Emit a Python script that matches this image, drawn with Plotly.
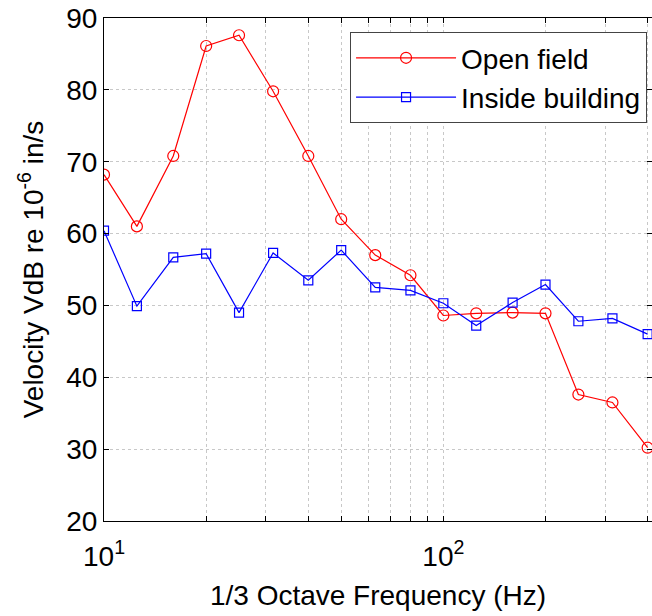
import plotly.graph_objects as go
import math

freq = [10, 12.5, 16, 20, 25, 31.5, 40, 50, 63, 80, 100, 125, 160, 200, 250, 315, 400]
open_field = [68.2, 61.0, 70.8, 86.1, 87.6, 79.8, 70.8, 62.0, 57.0, 54.2, 48.6, 48.9, 49.0, 48.9, 37.6, 36.5, 30.2]
inside_building = [60.4, 49.9, 56.7, 57.2, 49.0, 57.3, 53.5, 57.7, 52.5, 52.1, 50.3, 47.2, 50.4, 52.9, 47.8, 48.2, 46.0]

x_tickvals = [10, 20, 30, 40, 50, 60, 70, 80, 90, 100, 200, 300, 400]
x_ticktext = ["10<sup>1</sup>"] + [""] * 8 + ["10<sup>2</sup>"] + [""] * 3
y_tickvals = [20, 30, 40, 50, 60, 70, 80, 90]

FONT = "Liberation Sans, Arial, sans-serif"
FS = 28

fig = go.Figure()
fig.add_trace(go.Scatter(
    x=freq, y=open_field, name="Open field", mode="lines+markers",
    line=dict(color="#ff0000", width=1.2),
    marker=dict(symbol="circle-open", size=11, color="#ff0000", line=dict(width=1.2)),
))
fig.add_trace(go.Scatter(
    x=freq, y=inside_building, name="Inside building", mode="lines+markers",
    line=dict(color="#0000ff", width=1.2),
    marker=dict(symbol="square-open", size=9, color="#0000ff", line=dict(width=1.2)),
))

fig.update_layout(
    width=652, height=616,
    margin=dict(l=104, r=0, t=18, b=95, autoexpand=False),
    paper_bgcolor="white", plot_bgcolor="white",
    font=dict(family=FONT, size=FS, color="black"),
    showlegend=True,
    legend=dict(
        x=0.449, y=0.972, xanchor="left", yanchor="top",
        bgcolor="white", bordercolor="#444444", borderwidth=1,
        font=dict(size=FS, family=FONT), itemwidth=100,
        tracegroupgap=0,
    ),
)
fig.update_xaxes(
    type="log", range=[1, math.log10(412)],
    tickmode="array", tickvals=x_tickvals, ticktext=x_ticktext,
    ticks="inside", ticklen=5, tickcolor="black",
    showline=True, linecolor="black", linewidth=1, mirror="ticks",
    showgrid=True, gridcolor="#c8c8c8", griddash="dot", gridwidth=1,
    zeroline=False, ticklabelstandoff=10,
    title=dict(text="1/3 Octave Frequency (Hz)", font=dict(size=FS), standoff=14),
    tickfont=dict(size=FS),
)
fig.update_yaxes(
    range=[20, 90], tickmode="array", tickvals=y_tickvals,
    ticks="inside", ticklen=5, tickcolor="black",
    showline=True, linecolor="black", linewidth=1, mirror="ticks",
    showgrid=True, gridcolor="#c8c8c8", griddash="dot", gridwidth=1,
    zeroline=False,
    title=dict(text="Velocity VdB re 10<sup>-6</sup> in/s", font=dict(size=FS), standoff=14),
    tickfont=dict(size=FS),
)

fig.write_html("out.html")
